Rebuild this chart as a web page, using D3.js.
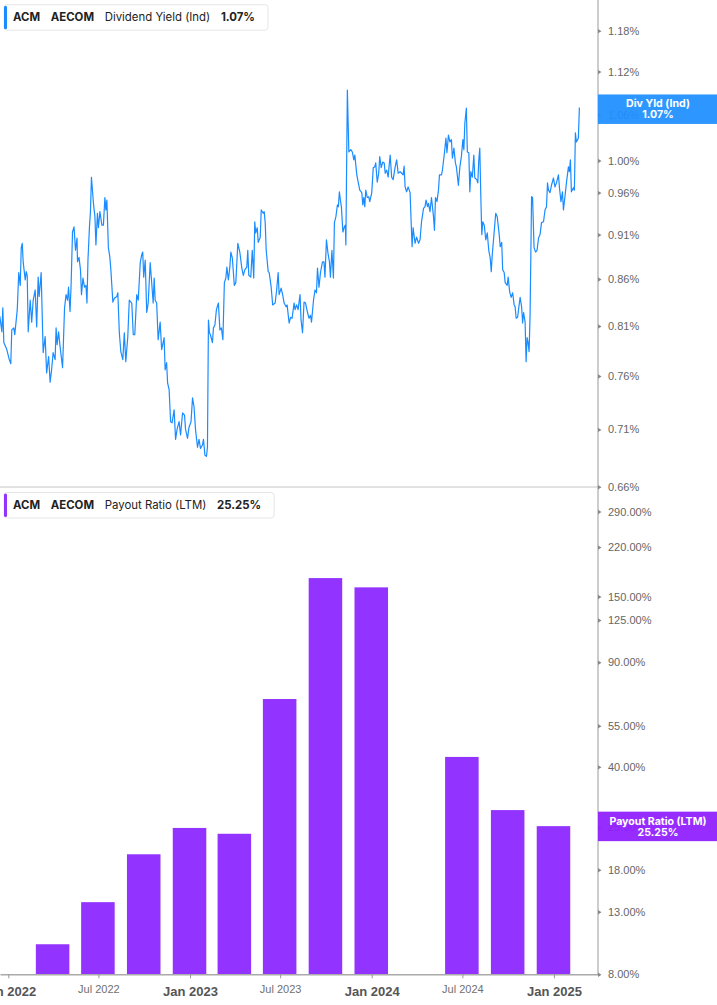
<!DOCTYPE html>
<html lang="en">
<head>
<meta charset="UTF-8">
<title>ACM AECOM Dividend Yield and Payout Ratio</title>
<script src="https://d3js.org/d3.v7.min.js"></script>
<style>
  body { margin: 0; background: #fff; }
  svg { font-family: Inter, "Noto Sans", sans-serif; display: block; }
  .axis text { fill: #666; font-size: 11px; }
  .legend text { font-size: 11.4px; fill: #222; }
  .legend .b { font-weight: 700; }
  .badge text { fill: #fff; font-size: 10.6px; font-weight: 700; text-anchor: middle; }
</style>
</head>
<body>
<svg width="717" height="1005"></svg>
<script>
// Dividend yield (Ind), in %
const yieldDates = [
  "2021-12-15","2021-12-19","2021-12-21","2021-12-23","2021-12-29",
  "2022-01-03","2022-01-06","2022-01-08","2022-01-12","2022-01-14","2022-01-19","2022-01-22","2022-01-25","2022-01-27","2022-01-29","2022-01-31",
  "2022-02-04","2022-02-06","2022-02-08","2022-02-10","2022-02-14","2022-02-17","2022-02-20","2022-02-24","2022-02-27",
  "2022-03-02","2022-03-04","2022-03-08","2022-03-12","2022-03-16","2022-03-19","2022-03-23","2022-03-26","2022-03-29",
  "2022-04-01","2022-04-05","2022-04-07","2022-04-09","2022-04-12","2022-04-15","2022-04-20","2022-04-24","2022-04-27","2022-04-30",
  "2022-05-02","2022-05-05","2022-05-07","2022-05-10","2022-05-13","2022-05-16","2022-05-19","2022-05-20","2022-05-23","2022-05-26","2022-05-28","2022-05-31",
  "2022-06-03","2022-06-06","2022-06-08","2022-06-10","2022-06-13","2022-06-15","2022-06-17","2022-06-21","2022-06-24","2022-06-26","2022-06-29",
  "2022-07-01","2022-07-04","2022-07-08","2022-07-11","2022-07-14","2022-07-16","2022-07-18","2022-07-21","2022-07-24","2022-07-26","2022-07-30",
  "2022-08-02","2022-08-07","2022-08-09","2022-08-12","2022-08-15","2022-08-19","2022-08-22","2022-08-25","2022-08-29",
  "2022-09-01","2022-09-06","2022-09-09","2022-09-12","2022-09-16","2022-09-19","2022-09-23","2022-09-26","2022-09-28","2022-09-30",
  "2022-10-03","2022-10-06","2022-10-09","2022-10-11","2022-10-13","2022-10-16","2022-10-19","2022-10-21","2022-10-23","2022-10-26","2022-10-29",
  "2022-11-02","2022-11-05","2022-11-10","2022-11-12","2022-11-15","2022-11-17","2022-11-20","2022-11-23","2022-11-26","2022-11-30",
  "2022-12-03","2022-12-06","2022-12-10","2022-12-13","2022-12-17","2022-12-21","2022-12-23","2022-12-27","2022-12-30",
  "2023-01-03","2023-01-06","2023-01-09","2023-01-12","2023-01-16","2023-01-19","2023-01-22","2023-01-26","2023-01-28","2023-01-31",
  "2023-02-03","2023-02-05","2023-02-07","2023-02-09","2023-02-11","2023-02-15","2023-02-17","2023-02-20","2023-02-23","2023-02-27",
  "2023-03-02","2023-03-05","2023-03-08","2023-03-11","2023-03-14","2023-03-16","2023-03-19","2023-03-22","2023-03-24","2023-03-27","2023-03-31",
  "2023-04-03","2023-04-07","2023-04-11","2023-04-15","2023-04-18","2023-04-21","2023-04-25","2023-04-27","2023-04-29",
  "2023-05-03","2023-05-06","2023-05-09","2023-05-11","2023-05-13","2023-05-16","2023-05-18","2023-05-22","2023-05-24","2023-05-28","2023-05-30",
  "2023-06-01","2023-06-03","2023-06-07","2023-06-09","2023-06-13","2023-06-16","2023-06-21","2023-06-24","2023-06-27","2023-06-29",
  "2023-07-03","2023-07-06","2023-07-09","2023-07-13","2023-07-15","2023-07-19","2023-07-22","2023-07-25","2023-07-29","2023-07-31",
  "2023-08-03","2023-08-06","2023-08-10","2023-08-12","2023-08-15","2023-08-18","2023-08-21","2023-08-25","2023-08-28","2023-08-31",
  "2023-09-02","2023-09-06","2023-09-09","2023-09-12","2023-09-14","2023-09-17","2023-09-20","2023-09-24","2023-09-27","2023-09-29",
  "2023-10-02","2023-10-05","2023-10-08","2023-10-10","2023-10-13","2023-10-16","2023-10-18","2023-10-21","2023-10-24","2023-10-26","2023-10-28","2023-10-30",
  "2023-11-01","2023-11-04","2023-11-07","2023-11-09","2023-11-10","2023-11-13","2023-11-16","2023-11-20","2023-11-23","2023-11-26","2023-11-28",
  "2023-12-02","2023-12-05","2023-12-08","2023-12-12","2023-12-14","2023-12-16","2023-12-18","2023-12-20","2023-12-23","2023-12-26","2023-12-28",
  "2024-01-01","2024-01-04","2024-01-07","2024-01-09","2024-01-12","2024-01-15","2024-01-17","2024-01-20","2024-01-23","2024-01-26","2024-01-28","2024-01-31",
  "2024-02-03","2024-02-05","2024-02-07","2024-02-10","2024-02-13","2024-02-17","2024-02-20","2024-02-23","2024-02-27",
  "2024-03-01","2024-03-04","2024-03-06","2024-03-08","2024-03-11","2024-03-14","2024-03-18","2024-03-20","2024-03-22","2024-03-24","2024-03-28","2024-03-31",
  "2024-04-04","2024-04-07","2024-04-10","2024-04-14","2024-04-17","2024-04-19","2024-04-22","2024-04-24","2024-04-27","2024-04-30",
  "2024-05-04","2024-05-06","2024-05-08","2024-05-11","2024-05-14","2024-05-16","2024-05-20","2024-05-22","2024-05-26","2024-05-29","2024-05-31",
  "2024-06-03","2024-06-06","2024-06-09","2024-06-11","2024-06-14","2024-06-17","2024-06-19","2024-06-23","2024-06-26","2024-06-29",
  "2024-07-02","2024-07-04","2024-07-06","2024-07-09","2024-07-11","2024-07-14","2024-07-16","2024-07-18","2024-07-21","2024-07-24","2024-07-26","2024-07-30",
  "2024-08-01","2024-08-03","2024-08-05","2024-08-07","2024-08-09","2024-08-11","2024-08-14","2024-08-17","2024-08-20","2024-08-23","2024-08-26","2024-08-28","2024-08-30",
  "2024-09-02","2024-09-06","2024-09-09","2024-09-13","2024-09-15","2024-09-18","2024-09-20","2024-09-23","2024-09-25","2024-09-29",
  "2024-10-01","2024-10-04","2024-10-07","2024-10-10","2024-10-13","2024-10-15","2024-10-17","2024-10-20","2024-10-23","2024-10-25","2024-10-28","2024-10-30",
  "2024-11-01","2024-11-04","2024-11-06","2024-11-08","2024-11-10","2024-11-12","2024-11-14","2024-11-17","2024-11-19","2024-11-22","2024-11-25","2024-11-28",
  "2024-12-01","2024-12-04","2024-12-07","2024-12-11","2024-12-14","2024-12-17","2024-12-19","2024-12-21","2024-12-24","2024-12-27","2024-12-31",
  "2025-01-03","2025-01-06","2025-01-10","2025-01-12","2025-01-15","2025-01-18","2025-01-20","2025-01-23","2025-01-26","2025-01-30",
  "2025-02-01","2025-02-03","2025-02-05","2025-02-09","2025-02-11","2025-02-13","2025-02-15","2025-02-19","2025-02-21"
];
const yieldValues = [
  0.820,0.804,0.829,0.793,0.786,0.776,0.772,0.806,0.808,0.801,
  0.827,0.867,0.853,0.895,0.900,0.878,0.859,0.868,0.864,0.804,
  0.837,0.814,0.837,0.848,0.809,0.862,0.841,0.867,0.783,0.799,
  0.763,0.779,0.754,0.766,0.783,0.776,0.808,0.791,0.804,0.789,
  0.768,0.829,0.843,0.837,0.851,0.825,0.851,0.913,0.919,0.892,
  0.906,0.879,0.884,0.870,0.843,0.861,0.851,0.853,0.834,0.881,
  0.919,0.937,0.979,0.947,0.931,0.898,0.935,0.918,0.937,0.921,
  0.921,0.954,0.939,0.951,0.895,0.884,0.870,0.835,0.839,0.841,
  0.845,0.803,0.784,0.776,0.803,0.774,0.799,0.837,0.834,0.801,
  0.801,0.843,0.837,0.878,0.887,0.890,0.862,0.881,0.824,0.834,0.856,
  0.878,0.856,0.834,0.861,0.837,0.834,0.796,0.814,0.786,0.798,
  0.766,0.773,0.753,0.747,0.717,0.716,0.728,0.701,0.710,0.717,
  0.705,0.725,0.723,0.710,0.702,0.712,0.717,0.739,0.731,0.710,
  0.694,0.701,0.693,0.696,0.701,0.687,0.686,0.694,0.816,0.803,
  0.801,0.793,0.808,0.811,0.827,0.834,0.806,0.808,0.796,0.856,
  0.861,0.873,0.859,0.873,0.890,0.883,0.853,0.856,0.900,0.890,
  0.872,0.864,0.870,0.873,0.892,0.864,0.862,0.892,0.861,0.925,
  0.912,0.918,0.901,0.907,0.939,0.935,0.937,0.924,0.892,0.868,
  0.867,0.851,0.832,0.834,0.848,0.867,0.843,0.850,0.843,0.834,
  0.830,0.832,0.813,0.819,0.818,0.834,
  0.827,0.832,0.827,0.843,0.816,0.803,0.835,0.834,0.824,0.818,
  0.821,0.814,0.837,0.848,0.845,0.872,0.851,0.867,0.879,0.879,
  0.862,0.904,0.889,0.879,0.862,0.892,0.861,0.924,0.931,0.945,
  0.943,0.961,0.951,0.943,0.913,0.919,0.921,0.898,1.094,1.011,
  1.014,1.011,1.001,1.007,0.982,0.972,0.963,0.960,0.945,0.954,
  0.943,0.963,0.954,0.955,0.949,0.960,0.991,0.992,0.997,0.973,
  0.984,1.005,0.991,0.998,0.997,0.984,0.988,0.979,0.994,1.007,
  0.979,0.976,0.992,1.001,0.984,0.986,0.984,0.982,0.993,0.967,
  0.961,0.967,0.960,0.927,0.896,0.918,0.900,0.907,0.900,0.904,
  0.925,0.941,0.943,0.951,0.943,0.947,0.937,0.954,0.931,0.915,
  0.954,0.949,0.963,0.982,
  0.982,0.988,1.010,1.029,1.010,1.033,1.024,1.027,1.003,1.016,
  0.997,0.992,0.969,0.992,1.005,1.027,1.014,1.049,1.069,1.011,
  1.010,0.961,0.986,0.979,1.007,0.978,0.976,0.972,1.001,1.016,
  0.957,0.910,0.925,0.921,0.904,0.912,0.892,0.883,0.868,0.887,
  0.907,0.935,0.931,0.910,0.896,0.901,0.870,0.867,0.856,0.853,
  0.862,0.846,0.840,0.845,0.832,0.830,0.818,0.819,0.832,0.840,
  0.830,0.813,0.824,0.814,0.774,0.798,0.793,0.784,0.821,0.955,
  0.954,0.895,0.890,0.892,0.906,0.910,0.924,0.925,0.939,0.943,
  0.972,0.963,0.960,0.969,0.978,0.967,0.972,0.982,0.966,0.949,
  0.961,0.939,0.955,0.972,0.992,0.986,1.001,0.961,0.966,0.963,
  1.036,1.024,1.029,1.07
];

// Payout ratio (LTM), in %, by fiscal quarter end
const payoutDates = ["2022-03-31","2022-06-30","2022-09-30","2022-12-31","2023-03-31","2023-06-30",
                     "2023-09-30","2023-12-31","2024-03-31","2024-06-30","2024-09-30","2024-12-31"];
const payoutValues = [10.1, 14.0, 20.3, 24.9, 23.8, 67.7, 173, 161, null, 43.2, 28.6, 25.25];

const yieldTicks = [1.18, 1.12, 1.06, 1.00, 0.96, 0.91, 0.86, 0.81, 0.76, 0.71, 0.66];
const payoutTicks = [290, 220, 150, 125, 90, 55, 40, 25, 18, 13, 8];

const lastYield = 1.07;
const lastPayout = 25.25;

const blue = "#1a8cff", purple = "#9333ff";
const parse = d3.timeParse("%Y-%m-%d");
const plotRight = 598;

const svg = d3.select("svg");

// scales
const x = d3.scaleTime()
    .domain([new Date(2021, 11, 15, 8), new Date(2025, 2, 30, 10)])
    .range([0, plotRight]);
const yTop = d3.scaleLog().domain([0.66, 1.227]).range([486.7, 0]);
const yBot = d3.scaleLog().domain([8, 348]).range([974.3, 488]);

// panel separator
svg.append("line")
    .attr("x1", 0).attr("x2", plotRight)
    .attr("y1", 487).attr("y2", 487)
    .attr("stroke", "#e2e2e2").attr("stroke-width", 2);

// top: dividend yield line
svg.append("clipPath").attr("id", "clipTop")
  .append("rect").attr("x", 0).attr("y", 0).attr("width", plotRight).attr("height", 487);

const yieldData = yieldDates.map((d, i) => ({ date: parse(d), value: yieldValues[i] }));
svg.append("path")
    .datum(yieldData)
    .attr("clip-path", "url(#clipTop)")
    .attr("fill", "none")
    .attr("stroke", blue)
    .attr("stroke-width", 1.2)
    .attr("stroke-linejoin", "round")
    .attr("d", d3.line().x(d => x(d.date)).y(d => yTop(d.value)));

// bottom: payout ratio bars
const payoutData = payoutDates.map((d, i) => ({ date: parse(d), value: payoutValues[i] }))
    .filter(d => d.value != null);
const step = x(parse(payoutDates[1])) - x(parse(payoutDates[0]));
const bw = step * 0.74;

svg.selectAll(".bar")
  .data(payoutData)
  .enter().append("rect")
    .attr("class", "bar")
    .attr("x", d => x(d.date) - bw / 2)
    .attr("y", d => yBot(d.value))
    .attr("width", bw)
    .attr("height", d => yBot(8) - yBot(d.value))
    .attr("fill", purple);

// x axis
const xAxis = svg.append("g")
    .attr("class", "axis")
    .attr("transform", `translate(0,${yBot(8)})`)
    .call(d3.axisBottom(x).ticks(d3.timeMonth.every(6)).tickSize(4).tickSizeOuter(0)
      .tickFormat(d3.timeFormat("%b %Y")));
xAxis.select(".domain").attr("stroke", "#aaa").attr("stroke-width", 1.5);
xAxis.selectAll(".tick line").attr("stroke", "#999");
xAxis.selectAll(".tick text")
    .attr("dy", 0)
    .each(function(d) {
      const jan = d.getMonth() === 0;
      d3.select(this)
        .attr("y", jan ? 21.7 : 18.7)
        .style("font-size", jan ? "13px" : "11px")
        .style("font-weight", jan ? 700 : 400)
        .style("fill", jan ? "#555" : "#707070");
    });

// right axes
svg.append("line")
    .attr("x1", plotRight).attr("x2", plotRight)
    .attr("y1", 0).attr("y2", yBot(8))
    .attr("stroke", "#9a9a9a").attr("stroke-width", 1);

function rightAxis(scale, ticks) {
  const g = svg.append("g")
      .attr("class", "axis")
      .attr("transform", `translate(${plotRight},0)`)
      .call(d3.axisRight(scale).tickValues(ticks)
        .tickFormat(d => d.toFixed(2) + "%").tickSize(0).tickPadding(10));
  g.select(".domain").remove();
  g.selectAll(".tick").append("path")
      .attr("d", "M0,-2.2L3.5,0L0,2.2Z")
      .attr("fill", "#888");
}
rightAxis(yTop, yieldTicks);
rightAxis(yBot, payoutTicks);

// value badges on the axis
function badge(yc, color, label, value) {
  const g = svg.append("g").attr("class", "badge");
  g.append("rect")
      .attr("x", plotRight).attr("y", yc - 14.5)
      .attr("width", 717 - plotRight).attr("height", 29.5)
      .attr("fill", color).attr("fill-opacity", 0.93);
  g.append("text").attr("x", 658).attr("y", yc - 1.5).text(label);
  g.append("text").attr("x", 658).attr("y", yc + 9.5).text(value);
}
badge(yTop(lastYield) + 1.5, "#1e8fff", "Div Yld (Ind)", lastYield.toFixed(2) + "%");
badge(yBot(lastPayout), "#8f1cff", "Payout Ratio (LTM)", lastPayout.toFixed(2) + "%");

// legends
function legend(top, color, label, value) {
  const g = svg.append("g").attr("class", "legend");
  const box = g.append("rect")
      .attr("x", 4).attr("y", top).attr("height", 25.5).attr("rx", 3)
      .attr("fill", "#fff").attr("stroke", "#e6e6e6");
  g.append("rect")
      .attr("x", 4).attr("y", top + 1).attr("width", 3).attr("height", 23.5).attr("rx", 1.5)
      .attr("fill", color);
  const parts = [["ACM", true], ["AECOM", true], [label, false], [value, true]];
  let cx = 13;
  parts.forEach(([t, bold]) => {
    const el = g.append("text")
        .attr("x", cx).attr("y", top + 16.5)
        .attr("class", bold ? "b" : null)
        .text(t);
    cx += el.node().getComputedTextLength() + 10.7;
  });
  box.attr("width", cx - 10.7 + 13 - 4);
}
legend(4.7, blue, "Dividend Yield (Ind)", lastYield.toFixed(2) + "%");
legend(492.5, purple, "Payout Ratio (LTM)", lastPayout.toFixed(2) + "%");
</script>
</body>
</html>
